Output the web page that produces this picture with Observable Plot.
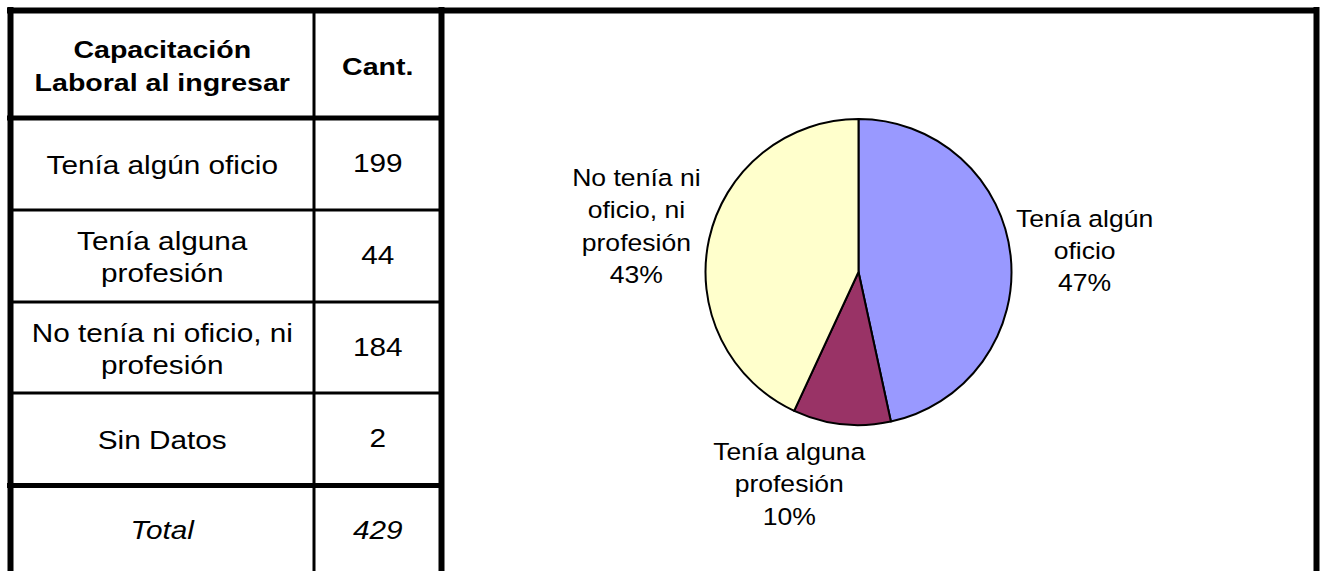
<!DOCTYPE html>
<html><head><meta charset="utf-8">
<script src="https://cdn.jsdelivr.net/npm/d3@7"></script>
<script src="https://cdn.jsdelivr.net/npm/@observablehq/plot@0.6"></script>
<style>html,body{margin:0;padding:0;background:#fff;} #chart svg{display:block;}</style>
</head><body><div id="chart"></div>
<script>
// ---- data ----
const categories = ["Tenía algún oficio", "Tenía alguna profesión", "No tenía ni oficio, ni profesión", "Sin Datos"];
const counts = [199, 44, 184, 2];
const tableLabels = ["Tenía algún oficio", "Tenía alguna\nprofesión", "No tenía ni oficio, ni\nprofesión", "Sin Datos"];
const headerLabels = ["Capacitación\nLaboral al ingresar", "Cant."];
const totalLabel = "Total";
const pieCategories = ["Tenía algún oficio", "Tenía alguna profesión", "No tenía ni oficio, ni profesión"];
const pieLabels = ["Tenía algún\noficio", "Tenía alguna\nprofesión", "No tenía ni\noficio, ni\nprofesión"];
const pieColors = ["#9999FF", "#993366", "#FFFFCC"];

// ---- layout ----
const W = 1324, H = 571;
const frame = {left: 10, top: 10, right: 1316, thick: 6};
const table = {right: 441, divider: 313.5, headerBottom: 117.5, rowLines: [209.5, 301.5, 392.5], totalLine: 485, bottom: 575};
const pie = {cx: 858.5, cy: 272, r: 153, labelR: 1.47};
const labelNudge = [[2, 0], [-45, -14], [-3, 0]];
const FONT = "'Liberation Sans', Arial, Helvetica, sans-serif";

const colLabelX = (frame.left + table.divider) / 2;
const colCountX = (table.divider + table.right) / 2;
const edges = [table.headerBottom, ...table.rowLines, table.totalLine, table.bottom];
const rowCenter = i => (edges[i] + edges[i + 1]) / 2;

const rows = categories.map((c, i) => ({label: tableLabels[i], count: counts[i], y: rowCenter(i)}));
const total = d3.sum(counts);
const totalRow = [{label: totalLabel, count: total, y: rowCenter(categories.length)}];
const headerY = (frame.top + table.headerBottom) / 2;
const header = [{text: headerLabels[0], x: colLabelX, y: headerY}, {text: headerLabels[1], x: colCountX, y: headerY}];

// pie
const pieValues = pieCategories.map(c => counts[categories.indexOf(c)]);
const pieSum = d3.sum(pieValues);
const arcs = d3.pie().sort(null).value(d => d)(pieValues);
const pieData = arcs.map((a, i) => {
  const mid = (a.startAngle + a.endAngle) / 2;
  const rr = pie.r * pie.labelR;
  return {
    text: pieLabels[i] + "\n" + Math.round(pieValues[i] / pieSum * 100) + "%",
    x: pie.cx + rr * Math.sin(mid) + labelNudge[i][0],
    y: pie.cy - rr * Math.cos(mid) + labelNudge[i][1]
  };
});

function pieMark(index, scales) {
  const sx = scales && scales.x ? scales.x : (v => v);
  const sy = scales && scales.y ? scales.y : (v => v);
  const cx = sx(pie.cx), cy = sy(pie.cy);
  const r = Math.abs(sx(pie.cx + pie.r) - cx);
  const arc = d3.arc().innerRadius(0).outerRadius(r);
  const g = d3.create("svg:g").attr("aria-label", "pie");
  g.selectAll("path").data(arcs).join("path")
    .attr("transform", `translate(${cx},${cy})`)
    .attr("d", arc)
    .attr("fill", (d, i) => pieColors[i])
    .attr("stroke", "#000")
    .attr("stroke-width", 2)
    .attr("stroke-linejoin", "round");
  return g.node();
}

const black = "#000";
const plot = Plot.plot({
  width: W, height: H, margin: 0,
  x: {domain: [0, W], range: [0, W], axis: null},
  y: {domain: [0, H], range: [0, H], axis: null},
  style: {fontFamily: FONT, background: "#fff", color: "#000"},
  marks: [
    pieMark,
    // frame & table lines
    Plot.ruleY([frame.top], {x1: frame.left - 3, x2: frame.right + 3, stroke: black, strokeWidth: frame.thick}),
    Plot.ruleX([frame.left, table.right, frame.right], {y1: frame.top - 3, y2: H + 5, stroke: black, strokeWidth: frame.thick}),
    Plot.ruleX([table.divider], {y1: frame.top, y2: H + 5, stroke: black, strokeWidth: 3}),
    Plot.ruleY([table.headerBottom, table.totalLine], {x1: frame.left - 3, x2: table.right + 3, stroke: black, strokeWidth: 5}),
    Plot.ruleY(table.rowLines, {x1: frame.left, x2: table.right, stroke: black, strokeWidth: 3}),
    // table text
    Plot.text(header, {x: "x", y: "y", text: "text", fontSize: 24, fontWeight: "bold", lineHeight: 1.38, fill: black, ariaDescription: "tabletext"}),
    Plot.text(rows, {x: colLabelX, y: "y", text: "label", fontSize: 25, lineHeight: 1.28, fill: black, ariaDescription: "tabletext"}),
    Plot.text(rows, {x: colCountX, y: "y", text: d => String(d.count), fontSize: 25, fill: black, ariaDescription: "tabletext"}),
    Plot.text(totalRow, {x: colLabelX, y: "y", text: "label", fontSize: 25, fontStyle: "italic", fill: black, ariaDescription: "tabletext"}),
    Plot.text(totalRow, {x: colCountX, y: "y", text: d => String(d.count), fontSize: 25, fontStyle: "italic", fill: black, ariaDescription: "tabletext"}),
    // pie labels
    Plot.text(pieData, {x: "x", y: "y", text: "text", fontSize: 23.3, lineHeight: 1.39, fill: black, ariaDescription: "pietext"})
  ]
});

function stretch(svg, desc, sx) {
  svg.querySelectorAll(`g[aria-description="${desc}"] text`).forEach(t => {
    const tr = t.getAttribute("transform");
    if (tr && /translate/.test(tr)) t.setAttribute("transform", tr + ` scale(${sx},1)`);
    else {
      const x = +(t.getAttribute("x") || 0);
      t.setAttribute("transform", `translate(${x * (1 - sx)},0) scale(${sx},1)`);
    }
  });
}
stretch(plot, "tabletext", 1.19);
stretch(plot, "pietext", 1.14);
document.getElementById("chart").appendChild(plot);
</script>
</body></html>
